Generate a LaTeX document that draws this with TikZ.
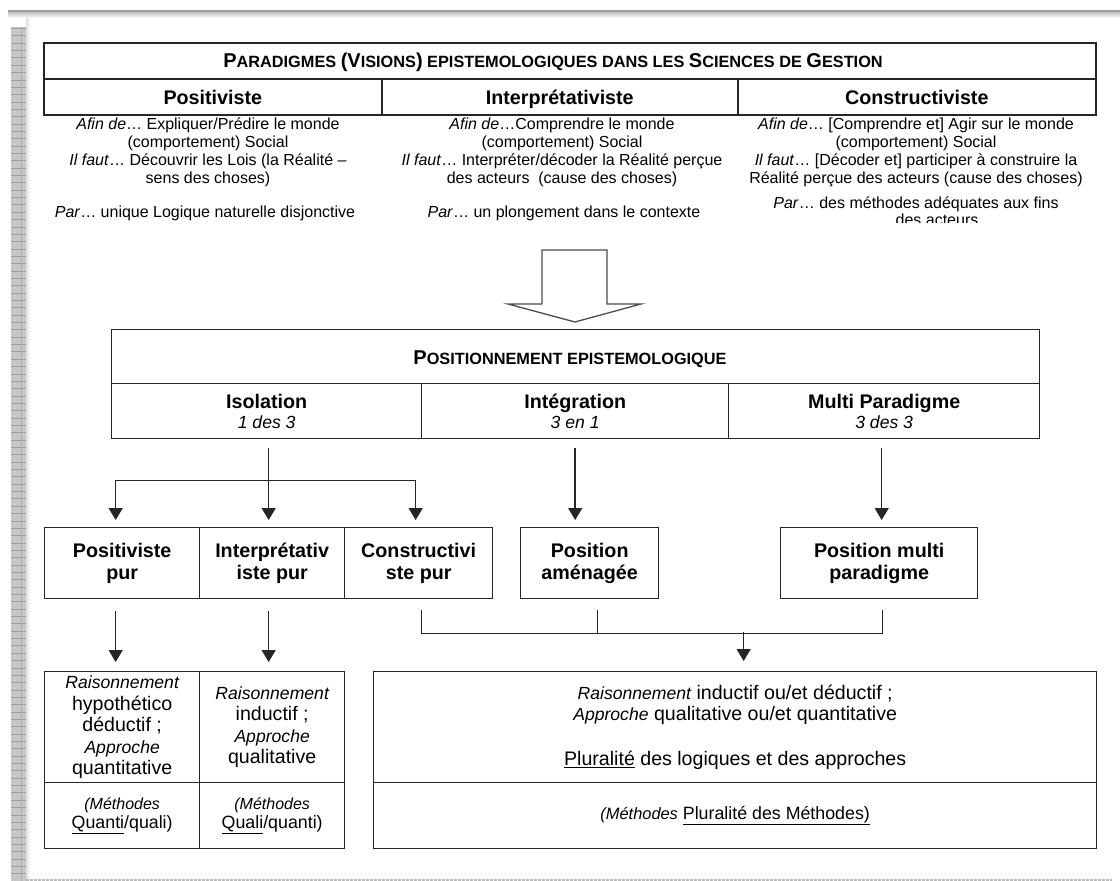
\documentclass[tikz,border=0pt]{standalone}
\usepackage{fontspec}
\setmainfont{Liberation Sans}
\usetikzlibrary{calc,arrows.meta}

% large initial of a small-caps title
\newcommand\capl[1]{{\fontsize{20}{24}\selectfont #1}}
% italic words inside the body text
\newcommand\ital[1]{{\fontsize{17.6}{21}\selectfont\mdseries\itshape #1}}
\newcommand\ul[1]{\underline{#1}}

\tikzset{
  box/.style={draw=black!85, line width=1.6pt, rectangle, inner sep=0pt, anchor=north west, align=center},
  thinbox/.style={box, line width=1.35pt},
  sctitle/.style={font=\fontsize{16.3}{20}\selectfont\bfseries, inner sep=0pt, anchor=base},
  hdr/.style={font=\fontsize{19.7}{22}\selectfont\bfseries},
  hdrone/.style={hdr, text height=16pt, text depth=1pt},
  hdrtwo/.style={font=\fontsize{19.7}{20.3}\selectfont\bfseries},
  note/.style={font=\fontsize{16}{18}\selectfont, align=center, inner sep=0pt},
  body/.style={font=\fontsize{19.6}{21.5}\selectfont},
  meth/.style={font=\fontsize{17.8}{19.3}\selectfont},
  link/.style={draw=black!85, line width=1.4pt},
  arr/.style={link, -{Triangle[width=14pt,length=12pt]}},
}

\begin{document}
\begin{tikzpicture}[x=1pt,y=-1pt]
\useasboundingbox (0,0) rectangle (1120,881);
\fill[white] (0,0) rectangle (1120,881);

% ---- page edge ----
\fill[black!38] (8,9.5) rectangle (1120,12.5);
\shade[top color=black!22, bottom color=white] (8,12.5) rectangle (1120,18);
\fill[black!22] (10.5,27) rectangle (26,881);
\foreach \k in {0,...,116}
  \draw[black!38, line width=0.9pt] (10.5,{28.5+7.35*\k}) -- (26,{28.5+7.35*\k});
\draw[black!32, line width=1.2pt] (21.5,27) -- (21.5,881);
\shade[left color=black!12, right color=white] (26,18) rectangle (30,881);
\draw[black!28, line width=2.2pt, dash pattern=on 2.5pt off 1.5pt] (26,879.8) -- (1112,879.8);

% ---- paradigms table ----
\node[box, minimum width=1052pt, minimum height=36pt] (titre) at (43,42) {};
\node[sctitle] (titreTxt) at (553,67)
  {\capl{P}ARADIGMES \capl{(V}ISIONS\capl{)} EPISTEMOLOGIQUES DANS LES \capl{S}CIENCES DE \capl{G}ESTION};
\node[box, hdrone, minimum width=338pt, minimum height=36pt] (hPos) at (43,78) {Positiviste};
\node[box, hdrone, minimum width=356pt, minimum height=36pt] (hInt) at (381,78) {Interprétativiste};
\node[box, hdrone, minimum width=358pt, minimum height=36pt] (hCon) at (737,78) {Constructiviste};

% ---- notes under each paradigm ----
\node[note, anchor=north] (nPos) at (208,117.5)
  {\textit{Afin de}… Expliquer/Prédire le monde\\(comportement) Social\\\textit{Il faut}… Découvrir les Lois (la Réalité –\\sens des choses)};
\node[note, anchor=base] (pPos) at (205,217) {\textit{Par}… unique Logique naturelle disjonctive};
\node[note, anchor=north] (nInt) at (562,117.5)
  {\textit{Afin de}…Comprendre le monde\\(comportement) Social\\\textit{Il faut}… Interpréter/décoder la Réalité perçue\\des acteurs~ (cause des choses)};
\node[note, anchor=base] (pInt) at (564,217) {\textit{Par}… un plongement dans le contexte};
\node[note, anchor=north] (nCon) at (916,117.5)
  {\textit{Afin de}… [Comprendre et] Agir sur le monde\\(comportement) Social\\\textit{Il faut}… [Décoder et] participer à construire la\\Réalité perçue des acteurs (cause des choses)};
\begin{scope}
  \clip (700,190) rectangle (1100,222.5);
  \node[note, anchor=base] (pCon) at (916,208) {\textit{Par}… des méthodes adéquates aux fins};
  \node[note, anchor=base] (pCon2) at (937,225) {des acteurs};
\end{scope}

% ---- block arrow ----
\draw[black!70, line width=1.3pt, fill=white]
  (542,250) -- (607,250) -- (607,304) -- (641,304) -- (575,322) -- (508,304) -- (542,304) -- cycle;

% ---- epistemological positioning ----
\node[thinbox, minimum width=928pt, minimum height=54pt] (posT) at (111,329) {};
\node[sctitle] (posTxt) at (570,364) {\capl{P}OSITIONNEMENT EPISTEMOLOGIQUE};
\node[thinbox, hdrtwo, minimum width=310pt, minimum height=55pt] (iso) at (111,383) {Isolation\\\ital{1 des 3}};
\node[thinbox, hdrtwo, minimum width=307pt, minimum height=55pt] (int) at (421,383) {Intégration\\\ital{3 en 1}};
\node[thinbox, hdrtwo, minimum width=311pt, minimum height=55pt] (mul) at (728,383) {Multi Paradigme\\\ital{3 des 3}};

% ---- positions ----
\node[thinbox, hdr, minimum width=155pt, minimum height=71pt] (pp) at (44,527) {Positiviste\\pur};
\node[thinbox, hdr, minimum width=145pt, minimum height=71pt] (ip) at (199,527) {Interprétativ\\iste pur};
\node[thinbox, hdr, minimum width=148pt, minimum height=71pt] (pc) at (344,527) {Constructivi\\ste pur};
\node[thinbox, hdr, minimum width=138pt, minimum height=71pt] (pa) at (520,527) {Position\\aménagée};
\node[thinbox, hdr, minimum width=197pt, minimum height=71pt] (pm) at (780,527) {Position multi\\paradigme};

% ---- reasoning and methods ----
\node[thinbox, body, minimum width=155pt, minimum height=111pt] (b1t) at (44,671)
  {\ital{Raisonnement}\\hypothético\\déductif ;\\\ital{Approche}\\quantitative};
\node[thinbox, meth, minimum width=155pt, minimum height=66pt] (b1b) at (44,782)
  {{\fontsize{16}{19.3}\selectfont\itshape (Méthodes}\\\ul{Quanti}/quali)};
\node[thinbox, body, minimum width=145pt, minimum height=111pt] (b2t) at (199,671)
  {\ital{Raisonnement}\\inductif ;\\\ital{Approche}\\qualitative};
\node[thinbox, meth, minimum width=145pt, minimum height=66pt] (b2b) at (199,782)
  {{\fontsize{16}{19.3}\selectfont\itshape (Méthodes}\\\ul{Quali}/quanti)};
\node[thinbox, body, font=\fontsize{19.6}{21}\selectfont, minimum width=723pt, minimum height=111pt] (bigT) at (373,671)
  {\ital{Raisonnement} inductif ou/et déductif ;\\\ital{Approche} qualitative ou/et quantitative\\[24pt]\ul{Pluralité} des logiques et des approches};
\node[thinbox, meth, minimum width=723pt, minimum height=66pt] (bigB) at (373,782)
  {{\fontsize{16.4}{19.3}\selectfont\itshape (Méthodes} \ul{Pluralité des Méthodes)}};

% ---- connectors: positioning to positions ----
\coordinate (fork) at ($(iso.south)+(2,41)$);
\draw[arr] ($(iso.south)+(2,9)$) -- ($(ip.north)+(-3.5,-7)$);
\draw[arr] (fork) -| ($(pp.north)+(-6.5,-7)$);
\draw[arr] (fork) -| ($(pc.north)+(-3,-7)$);
\draw[arr] ($(int.south)+(0,9)$) -- ($(int.south |- pa.north)+(0,-7)$);
\draw[arr] ($(mul.south)+(-2.5,9)$) -- ($(mul.south |- pm.north)+(-2.5,-7)$);

% ---- connectors: positions to reasoning ----
\draw[arr] ($(pp.south)+(-6.5,12)$) -- ($(b1t.north)+(-6.5,-9)$);
\draw[arr] ($(ip.south)+(-3.5,12)$) -- ($(b2t.north)+(-3.5,-9)$);
\coordinate (mrg) at ($(bigT.north)+(8.5,-39)$);
\draw[link] ($(pc.south)+(3,11)$) |- ($(pm.south)+(3.5,34)$) -- ($(pm.south)+(3.5,11)$);
\draw[link] ($(pa.south)+(8,11)$) -- ($(pa.south)+(8,34)$);
\draw[arr] (mrg) -- ($(bigT.north)+(8.5,-10)$);
\end{tikzpicture}
\end{document}
